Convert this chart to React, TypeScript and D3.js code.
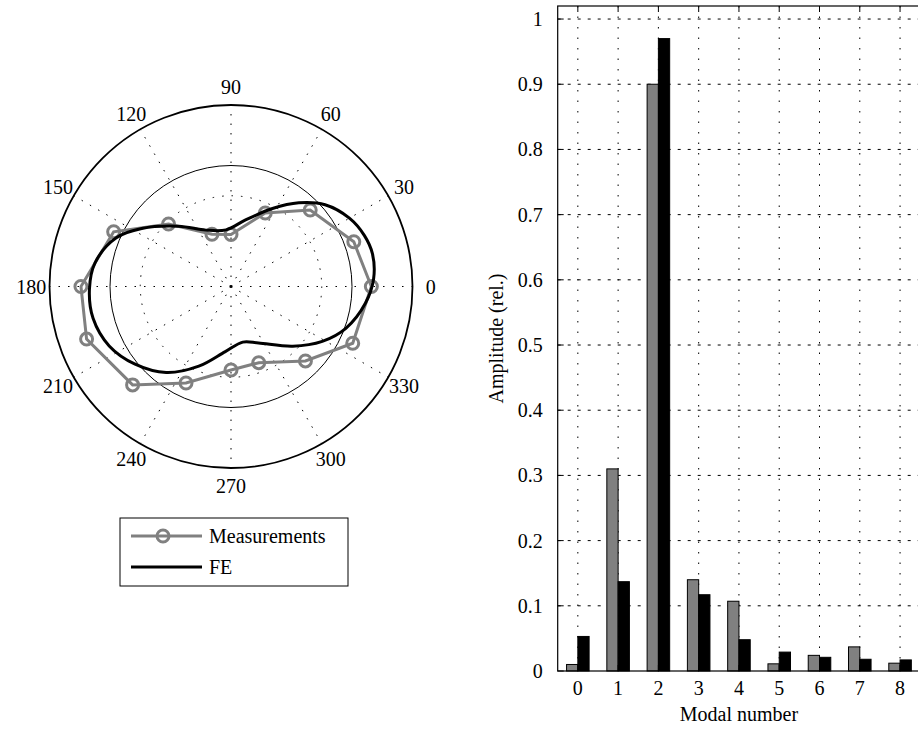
import React, { useEffect, useRef } from 'react';
import * as d3 from 'd3';

// modal amplitudes (bar chart)
const modes = [0, 1, 2, 3, 4, 5, 6, 7, 8];
const measAmp = [0.01, 0.31, 0.9, 0.14, 0.107, 0.011, 0.024, 0.037, 0.012];
const feAmp = [0.053, 0.137, 0.97, 0.117, 0.048, 0.029, 0.021, 0.018, 0.017];
const yTicks = [0, 0.1, 0.2, 0.3, 0.4, 0.5, 0.6, 0.7, 0.8, 0.9, 1];

// polar: measured points (deg, radius)
const measAngles = [0, 20, 44, 65, 90, 110, 135, 155, 180, 200, 225, 245, 270, 290, 315, 335];
const measRadii = [1.16, 1.08, 0.91, 0.67, 0.43, 0.46, 0.73, 1.07, 1.24, 1.27, 1.15, 0.88, 0.69, 0.67, 0.87, 1.11];

// polar: FE mode shape
const feAngles = [3, 13, 21, 30, 41, 51, 62, 78, 95, 114, 131, 147, 157, 170, 181, 193, 206, 219, 233, 248, 265, 282, 296, 316, 329, 340, 353];
const feRadii = [1.18, 1.2, 1.18, 1.13, 1.03, 0.89, 0.73, 0.56, 0.47, 0.51, 0.66, 0.88, 1.03, 1.14, 1.17, 1.17, 1.12, 1.02, 0.89, 0.71, 0.54, 0.47, 0.52, 0.71, 0.88, 1.01, 1.12];

const angleLabels = [0, 30, 60, 90, 120, 150, 180, 210, 240, 270, 300, 330];
const rCircles = [0.75, 1, 1.5];

const FONT = "'Liberation Serif', 'Times New Roman', Times, Tinos, 'Noto Serif', 'DejaVu Serif', Georgia, serif";
const GRAY = '#808080';

const App = () => {
  const svgRef = useRef(null);

  useEffect(() => {
    const svg = d3.select(svgRef.current);
    svg.selectAll('*').remove();

    // ---------- polar plot ----------
    const cx = 231;
    const cy = 286.5;
    const rScale = d3.scaleLinear().domain([0, 1.5]).range([0, 181.5]);
    const rad = (deg) => (deg * Math.PI) / 180;

    const polar = svg.append('g').attr('transform', `translate(${cx},${cy})`);

    angleLabels.forEach((a) => {
      polar.append('line')
        .attr('x1', 0).attr('y1', 0)
        .attr('x2', rScale(1.5) * Math.cos(rad(a)))
        .attr('y2', -rScale(1.5) * Math.sin(rad(a)))
        .attr('stroke', '#000')
        .attr('stroke-width', 1)
        .attr('stroke-dasharray', '1.5,8');
    });

    rCircles.forEach((r) => {
      polar.append('circle')
        .attr('r', rScale(r))
        .attr('fill', 'none')
        .attr('stroke', '#000')
        .attr('stroke-width', r === 1.5 ? 1.8 : 1)
        .attr('stroke-dasharray', r === 0.75 ? '1.5,8' : null);
    });

    angleLabels.forEach((a) => {
      const lr = rScale(1.5) * 1.1;
      polar.append('text')
        .attr('x', lr * Math.cos(rad(a)))
        .attr('y', -lr * Math.sin(rad(a)))
        .attr('dy', '0.35em')
        .attr('text-anchor', 'middle')
        .text(a);
    });

    const radial = d3.lineRadial()
      .angle((d) => Math.PI / 2 - rad(d[0]))
      .radius((d) => rScale(d[1]));

    const meas = measAngles.map((a, i) => [a, measRadii[i]]);
    const fe = feAngles.map((a, i) => [a, feRadii[i]]);

    polar.append('path')
      .datum(meas)
      .attr('d', radial.curve(d3.curveLinearClosed))
      .attr('fill', 'none')
      .attr('stroke', GRAY)
      .attr('stroke-width', 3);

    polar.selectAll('.marker')
      .data(meas)
      .enter()
      .append('circle')
      .attr('cx', (d) => rScale(d[1]) * Math.cos(rad(d[0])))
      .attr('cy', (d) => -rScale(d[1]) * Math.sin(rad(d[0])))
      .attr('r', 6)
      .attr('fill', 'none')
      .attr('stroke', GRAY)
      .attr('stroke-width', 3);

    polar.append('path')
      .datum(fe)
      .attr('d', radial.curve(d3.curveCatmullRomClosed.alpha(0.5)))
      .attr('fill', 'none')
      .attr('stroke', '#000')
      .attr('stroke-width', 3);

    // legend
    const lg = svg.append('g').attr('transform', 'translate(120,518)');
    lg.append('rect')
      .attr('width', 228).attr('height', 68)
      .attr('fill', '#fff').attr('stroke', '#000').attr('stroke-width', 1);
    lg.append('line')
      .attr('x1', 11).attr('x2', 82).attr('y1', 18).attr('y2', 18)
      .attr('stroke', GRAY).attr('stroke-width', 3);
    lg.append('circle')
      .attr('cx', 43).attr('cy', 18).attr('r', 6)
      .attr('fill', 'none').attr('stroke', GRAY).attr('stroke-width', 3);
    lg.append('line')
      .attr('x1', 11).attr('x2', 82).attr('y1', 49).attr('y2', 49)
      .attr('stroke', '#000').attr('stroke-width', 3);
    [['Measurements', 18], ['FE', 49]].forEach(([t, y]) => {
      lg.append('text')
        .attr('x', 89).attr('y', y).attr('dy', '0.35em')
        .text(t);
    });

    // ---------- bar chart ----------
    const left = 557.7;
    const right = 920.2;
    const top = 6;
    const bottom = 671;
    const x = d3.scaleLinear().domain([-0.5, 8.5]).range([left, right]);
    const y = d3.scaleLinear().domain([0, 1.02]).range([bottom, top]);
    const bw = x(0.28) - x(0);

    const bars = svg.append('g');

    // grid
    yTicks.slice(1).forEach((v) => {
      bars.append('line')
        .attr('x1', left).attr('x2', right)
        .attr('y1', y(v)).attr('y2', y(v))
        .attr('stroke', '#000').attr('stroke-width', 1)
        .attr('stroke-dasharray', '3,7');
    });
    modes.forEach((m) => {
      bars.append('line')
        .attr('x1', x(m)).attr('x2', x(m))
        .attr('y1', top).attr('y2', bottom)
        .attr('stroke', '#000').attr('stroke-width', 1)
        .attr('stroke-dasharray', '1.5,9');
    });

    bars.selectAll('.meas')
      .data(measAmp)
      .enter()
      .append('rect')
      .attr('x', (d, i) => x(modes[i]) - bw)
      .attr('y', (d) => y(d))
      .attr('width', bw)
      .attr('height', (d) => y(0) - y(d))
      .attr('fill', GRAY)
      .attr('stroke', '#000')
      .attr('stroke-width', 1);

    bars.selectAll('.fe')
      .data(feAmp)
      .enter()
      .append('rect')
      .attr('x', (d, i) => x(modes[i]))
      .attr('y', (d) => y(d))
      .attr('width', bw)
      .attr('height', (d) => y(0) - y(d))
      .attr('fill', '#000')
      .attr('stroke', '#000')
      .attr('stroke-width', 1);

    // axes box
    bars.append('rect')
      .attr('x', left).attr('y', top)
      .attr('width', right - left).attr('height', bottom - top)
      .attr('fill', 'none').attr('stroke', '#000').attr('stroke-width', 1.2);

    // ticks
    yTicks.forEach((v) => {
      bars.append('line')
        .attr('x1', left).attr('x2', left + 6)
        .attr('y1', y(v)).attr('y2', y(v))
        .attr('stroke', '#000');
      bars.append('text')
        .attr('x', left - 15).attr('y', y(v)).attr('dy', '0.35em')
        .attr('text-anchor', 'end')
        .text(v);
    });
    modes.forEach((m) => {
      bars.append('line')
        .attr('x1', x(m)).attr('x2', x(m))
        .attr('y1', top).attr('y2', top + 6)
        .attr('stroke', '#000');
      bars.append('line')
        .attr('x1', x(m)).attr('x2', x(m))
        .attr('y1', bottom).attr('y2', bottom - 6)
        .attr('stroke', '#000');
      bars.append('text')
        .attr('x', x(m)).attr('y', bottom + 24)
        .attr('text-anchor', 'middle')
        .text(m);
    });

    bars.append('text')
      .attr('x', (left + right) / 2).attr('y', 721)
      .attr('text-anchor', 'middle')
      .text('Modal number');

    bars.append('text')
      .attr('transform', `translate(503,${(top + bottom) / 2}) rotate(-90)`)
      .attr('text-anchor', 'middle')
      .text('Amplitude (rel.)');
  }, []);

  return (
    <svg
      ref={svgRef}
      width={918}
      height={729}
      fontFamily={FONT}
      fontSize={20}
      style={{ position: 'absolute', left: 0, top: 0, background: '#fff' }}
    />
  );
};

export default App;
